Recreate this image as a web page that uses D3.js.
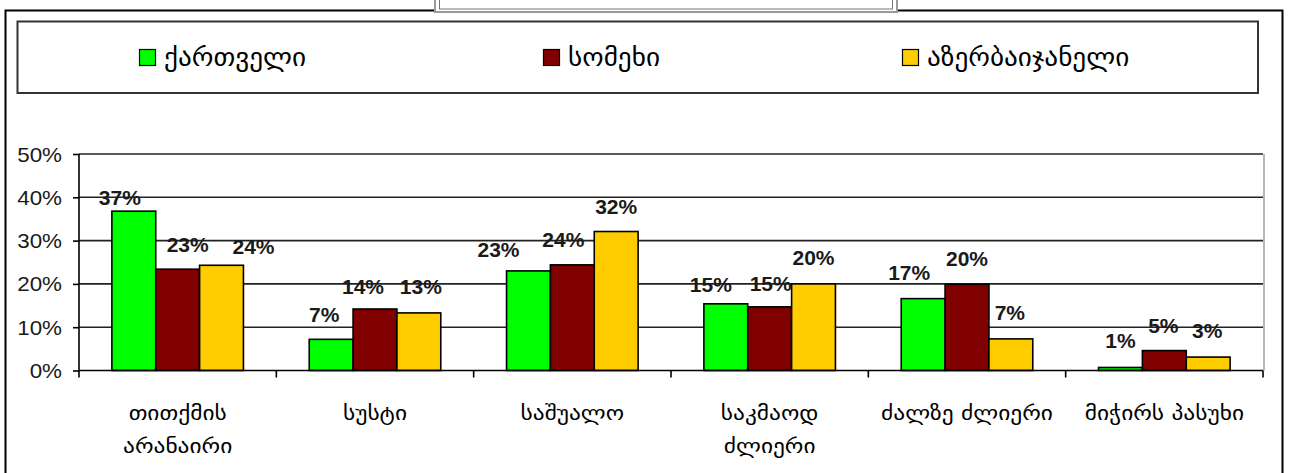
<!DOCTYPE html>
<html>
<head>
<meta charset="utf-8">
<script src="https://cdn.jsdelivr.net/npm/d3@7/dist/d3.min.js"></script>
<style>
  html, body { margin: 0; padding: 0; background: #fff; }
  svg { display: block; }
</style>
</head>
<body>
<svg id="chart" width="1292" height="473"></svg>
<script>
// ---- data ----
const categories = [
  ["თითქმის", "არანაირი"],
  ["სუსტი"],
  ["საშუალო"],
  ["საკმაოდ", "ძლიერი"],
  ["ძალზე ძლიერი"],
  ["მიჭირს პასუხი"]
];
const seriesNames = ["ქართველი", "სომეხი", "აზერბაიჯანელი"];
const kartveli = [36.8, 7.2, 23.0, 15.4, 16.6, 0.7];
const somekhi = [23.4, 14.2, 24.4, 14.7, 19.9, 4.6];
const azerbaijaneli = [24.3, 13.3, 32.1, 20.0, 7.3, 3.1];
const yTicks = [0, 10, 20, 30, 40, 50];
const colors = ["#00ff00", "#800000", "#ffcc00"];

// label nudges (dx, dy) copied from the reference's hand-placed labels
const labelNudge = [
  [[-14, 12], [10, 1], [32, 7]],
  [[-7, 1], [-12, 3], [2, -1]],
  [[-30, 4], [-9, 0], [0, 0]],
  [[-15, 6], [1, 2], [0, -1]],
  [[-14, -1], [0, 0], [-1, -1]],
  [[0, -1], [-1, 0], [-1, -1]]
];

const series = [kartveli, somekhi, azerbaijaneli];

// ---- layout ----
const svg = d3.select("#chart");
const plot = { left: 79, right: 1263, top: 154, bottom: 370.5 };
const geoFont = "'DejaVu Sans', sans-serif";
const latFont = "'Liberation Sans', Arial, sans-serif";

// outer chart border
svg.append("rect").attr("x", 5.5).attr("y", 10.5).attr("width", 1277).attr("height", 480)
  .attr("fill", "#fff").attr("stroke", "#000").attr("stroke-width", 2);

// clipped title box at the top
svg.append("rect").attr("x", 435).attr("y", -10).attr("width", 462).attr("height", 22)
  .attr("fill", "#fff").attr("stroke", "#9a9a9a").attr("stroke-width", 2);
svg.append("rect").attr("x", 439.5).attr("y", -10).attr("width", 453).attr("height", 19)
  .attr("fill", "#fff").attr("stroke", "#777").attr("stroke-width", 1);

// legend box
svg.append("rect").attr("x", 17.5).attr("y", 21.5).attr("width", 1240.5).attr("height", 71.5)
  .attr("fill", "#fff").attr("stroke", "#333").attr("stroke-width", 2);

const legendX = [139, 543, 902];
seriesNames.forEach((name, i) => {
  const g = svg.append("g").attr("transform", `translate(${legendX[i]},49)`);
  g.append("rect").attr("x", 0.5).attr("y", 0.5).attr("width", 16).attr("height", 16)
    .attr("fill", colors[i]).attr("stroke", "#000").attr("stroke-width", 1.2);
  g.append("text").attr("transform", "translate(25,17) scale(1.09,1)")
    .attr("font-family", geoFont).attr("font-size", 25).attr("fill", "#000")
    .text(name);
});

// scales
const x0 = d3.scaleBand().domain(d3.range(categories.length)).range([plot.left, plot.right]).padding(0);
const slot = x0.bandwidth();
const gap = slot * 1.5 / 4.5;
const x1 = d3.scaleBand().domain(d3.range(series.length)).range([gap / 2, slot - gap / 2]).padding(0);
const y = d3.scaleLinear().domain([0, 50]).range([plot.bottom, plot.top]);

// gridlines
svg.append("g").selectAll("line").data(yTicks.filter(d => d > 0)).join("line")
  .attr("x1", plot.left).attr("x2", plot.right)
  .attr("y1", d => y(d)).attr("y2", d => y(d))
  .attr("stroke", "#222").attr("stroke-width", 1.6);

// plot area right border
svg.append("line").attr("x1", plot.right + 1).attr("x2", plot.right + 1)
  .attr("y1", plot.top).attr("y2", plot.bottom)
  .attr("stroke", "#a0a0a0").attr("stroke-width", 1.5);

// bars
const groups = svg.append("g").selectAll("g").data(categories.map((c, i) => i)).join("g")
  .attr("transform", i => `translate(${x0(i)},0)`);
groups.selectAll("rect").data(i => series.map((s, j) => ({ j, v: s[i] }))).join("rect")
  .attr("x", d => x1(d.j)).attr("width", x1.bandwidth())
  .attr("y", d => y(d.v)).attr("height", d => y(0) - y(d.v))
  .attr("fill", d => colors[d.j]).attr("stroke", "#000").attr("stroke-width", 1.6);

// y axis
const yAxis = d3.axisLeft(y).tickValues(yTicks).tickSize(6).tickFormat(d => d + "%");
const yg = svg.append("g").attr("transform", `translate(${plot.left},0)`).call(yAxis);
yg.select(".domain").attr("stroke", "#000").attr("stroke-width", 1.6).attr("d", `M0,${plot.top}V${plot.bottom}`);
yg.selectAll(".tick line").attr("stroke", "#000").attr("stroke-width", 1.6);
yg.selectAll(".tick text").attr("font-family", latFont).attr("font-size", 20).attr("fill", "#1a1a1a")
  .attr("x", 0).attr("dy", "0.35em")
  .attr("transform", "translate(-17,0) scale(1.12,1)");

// x axis
const xAxis = d3.axisBottom(x0).tickSize(0).tickFormat("");
const xg = svg.append("g").attr("transform", `translate(0,${plot.bottom})`).call(xAxis);
xg.select(".domain").attr("stroke", "#000").attr("stroke-width", 1.6).attr("d", `M${plot.left},0H${plot.right}`);
xg.selectAll(".tick").remove();
xg.selectAll("line.sep").data(d3.range(categories.length + 1)).join("line").attr("class", "sep")
  .attr("x1", i => plot.left + i * slot).attr("x2", i => plot.left + i * slot)
  .attr("y1", 0).attr("y2", 7).attr("stroke", "#000").attr("stroke-width", 1.6);

// category labels
const catText = svg.append("g").selectAll("text").data(categories).join("text")
  .attr("transform", (c, i) => `translate(${x0(i) + slot / 2},420) scale(1.17,1)`)
  .attr("text-anchor", "middle").attr("font-family", geoFont).attr("font-size", 20).attr("fill", "#000");
catText.selectAll("tspan").data(c => c).join("tspan")
  .attr("x", 0)
  .attr("dy", (d, k) => k === 0 ? 0 : 33)
  .text(d => d);

// data labels
groups.selectAll("text").data(i => series.map((s, j) => ({ i, j, v: s[i] }))).join("text")
  .attr("x", d => x1(d.j) + x1.bandwidth() / 2 + labelNudge[d.i][d.j][0])
  .attr("y", d => y(d.v) - 18 + labelNudge[d.i][d.j][1])
  .attr("text-anchor", "middle").attr("font-family", latFont).attr("font-weight", "bold")
  .attr("font-size", 21).attr("fill", "#1a1a1a")
  .text(d => Math.round(d.v) + "%");
</script>
</body>
</html>
